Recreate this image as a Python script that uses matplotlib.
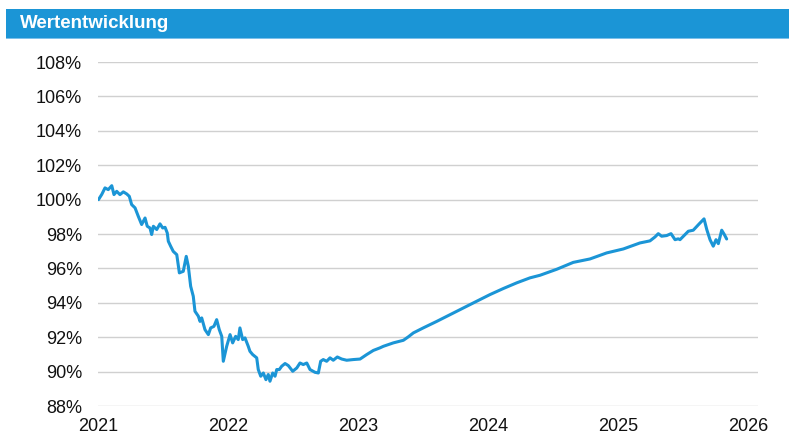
import matplotlib
matplotlib.use("Agg")
import matplotlib.pyplot as plt
from matplotlib.patches import Rectangle

plt.rcParams["font.family"] = ["Liberation Sans", "DejaVu Sans"]

# Wertentwicklung in Prozent (Startwert = 100 %), Zeitachse in Dezimaljahren
year = [
    2021.000, 2021.025, 2021.050, 2021.075, 2021.102, 2021.119, 2021.140, 2021.165,
    2021.191, 2021.217, 2021.237, 2021.255, 2021.281, 2021.306, 2021.332, 2021.358,
    2021.375, 2021.396, 2021.409, 2021.422, 2021.448, 2021.473, 2021.494, 2021.512,
    2021.529, 2021.537, 2021.555, 2021.575, 2021.602, 2021.622, 2021.652, 2021.675,
    2021.691, 2021.709, 2021.729, 2021.742, 2021.768, 2021.781, 2021.794, 2021.819,
    2021.845, 2021.863, 2021.888, 2021.909, 2021.929, 2021.948, 2021.960, 2021.986,
    2022.012, 2022.032, 2022.055, 2022.075, 2022.088, 2022.109, 2022.127, 2022.152,
    2022.165, 2022.186, 2022.217, 2022.229, 2022.248, 2022.268, 2022.288, 2022.306,
    2022.319, 2022.340, 2022.358, 2022.371, 2022.391, 2022.409, 2022.435, 2022.460,
    2022.494, 2022.525, 2022.550, 2022.575, 2022.602, 2022.627, 2022.665, 2022.691,
    2022.709, 2022.729, 2022.755, 2022.781, 2022.806, 2022.837, 2022.871, 2022.909,
    2022.960, 2023.012, 2023.063, 2023.114, 2023.165, 2023.191, 2023.268, 2023.345,
    2023.383, 2023.422, 2023.498, 2023.602, 2023.704, 2023.806, 2023.909, 2024.012,
    2024.114, 2024.217, 2024.319, 2024.396, 2024.525, 2024.652, 2024.781, 2024.909,
    2025.037, 2025.165, 2025.242, 2025.281, 2025.306, 2025.332, 2025.371, 2025.404,
    2025.435, 2025.460, 2025.473, 2025.512, 2025.537, 2025.575, 2025.622, 2025.658,
    2025.679, 2025.704, 2025.729, 2025.750, 2025.768, 2025.794, 2025.814, 2025.832,
]
value = [
    100.00, 100.30, 100.68, 100.58, 100.81, 100.29, 100.48, 100.29,
    100.45, 100.33, 100.19, 99.71, 99.52, 99.03, 98.55, 98.93,
    98.45, 98.35, 97.97, 98.45, 98.26, 98.59, 98.35, 98.39,
    98.06, 97.58, 97.29, 96.99, 96.80, 95.74, 95.83, 96.70,
    96.12, 94.96, 94.38, 93.51, 93.22, 92.92, 93.12, 92.44,
    92.15, 92.54, 92.63, 93.02, 92.44, 92.05, 90.60, 91.47,
    92.15, 91.67, 92.05, 91.86, 92.54, 91.86, 91.96, 91.47,
    91.18, 90.99, 90.80, 90.12, 89.73, 89.92, 89.53, 89.83,
    89.44, 89.92, 89.73, 90.12, 90.12, 90.31, 90.47, 90.35,
    90.02, 90.21, 90.50, 90.41, 90.50, 90.12, 89.96, 89.92,
    90.60, 90.70, 90.60, 90.80, 90.66, 90.85, 90.73, 90.66,
    90.70, 90.73, 90.99, 91.23, 91.38, 91.47, 91.67, 91.82,
    92.02, 92.25, 92.54, 92.92, 93.31, 93.70, 94.09, 94.48,
    94.83, 95.16, 95.45, 95.60, 95.95, 96.35, 96.55, 96.90,
    97.13, 97.48, 97.60, 97.83, 98.02, 97.87, 97.91, 98.02,
    97.67, 97.72, 97.67, 97.97, 98.16, 98.22, 98.60, 98.88,
    98.26, 97.67, 97.29, 97.67, 97.44, 98.22, 97.97, 97.71,
]

y_ticks = [88, 90, 92, 94, 96, 98, 100, 102, 104, 106, 108]
x_ticks = [2021, 2022, 2023, 2024, 2025, 2026]
title = "Wertentwicklung"

blue = "#1b95d6"

W, H = 789, 436
fig = plt.figure(figsize=(W / 100, H / 100), dpi=100)

# Kopfbalken
fig.patches.append(Rectangle((6 / W, (H - 38) / H), 783 / W, 29 / H,
                             transform=fig.transFigure, facecolor=blue,
                             edgecolor="none", zorder=0))
fig.patches.append(Rectangle((6 / W, (H - 39) / H), 783 / W, 1.2 / H,
                             transform=fig.transFigure, facecolor="#7cc0ea",
                             edgecolor="none", zorder=0))
fig.text(20 / W, (H - 23) / H, title, color="white", fontsize=13.5,
         fontweight="bold", va="center", ha="left")

ax = fig.add_axes([98 / W, 30 / H, 660 / W, 344 / H])
ax.plot(year, value, color=blue, linewidth=2.2, solid_joinstyle="round",
        solid_capstyle="round", zorder=3)

ax.set_ylim(88, 108)
ax.set_xlim(2021 - 0.5 / 130, 2026 + 9.5 / 130)
ax.set_yticks(y_ticks)
ax.set_yticklabels([f"{t}%" for t in y_ticks])
ax.set_xticks(x_ticks)
ax.set_xticklabels([str(t) for t in x_ticks])

ax.grid(axis="y", color="#d0d0d0", linewidth=1.0)
ax.set_axisbelow(True)
for s in ax.spines.values():
    s.set_visible(False)
ax.tick_params(axis="both", length=0, labelsize=13, colors="#111111")
ax.tick_params(axis="y", pad=11.5)
ax.tick_params(axis="x", pad=8.5)

fig.savefig("out.png", dpi=100)
